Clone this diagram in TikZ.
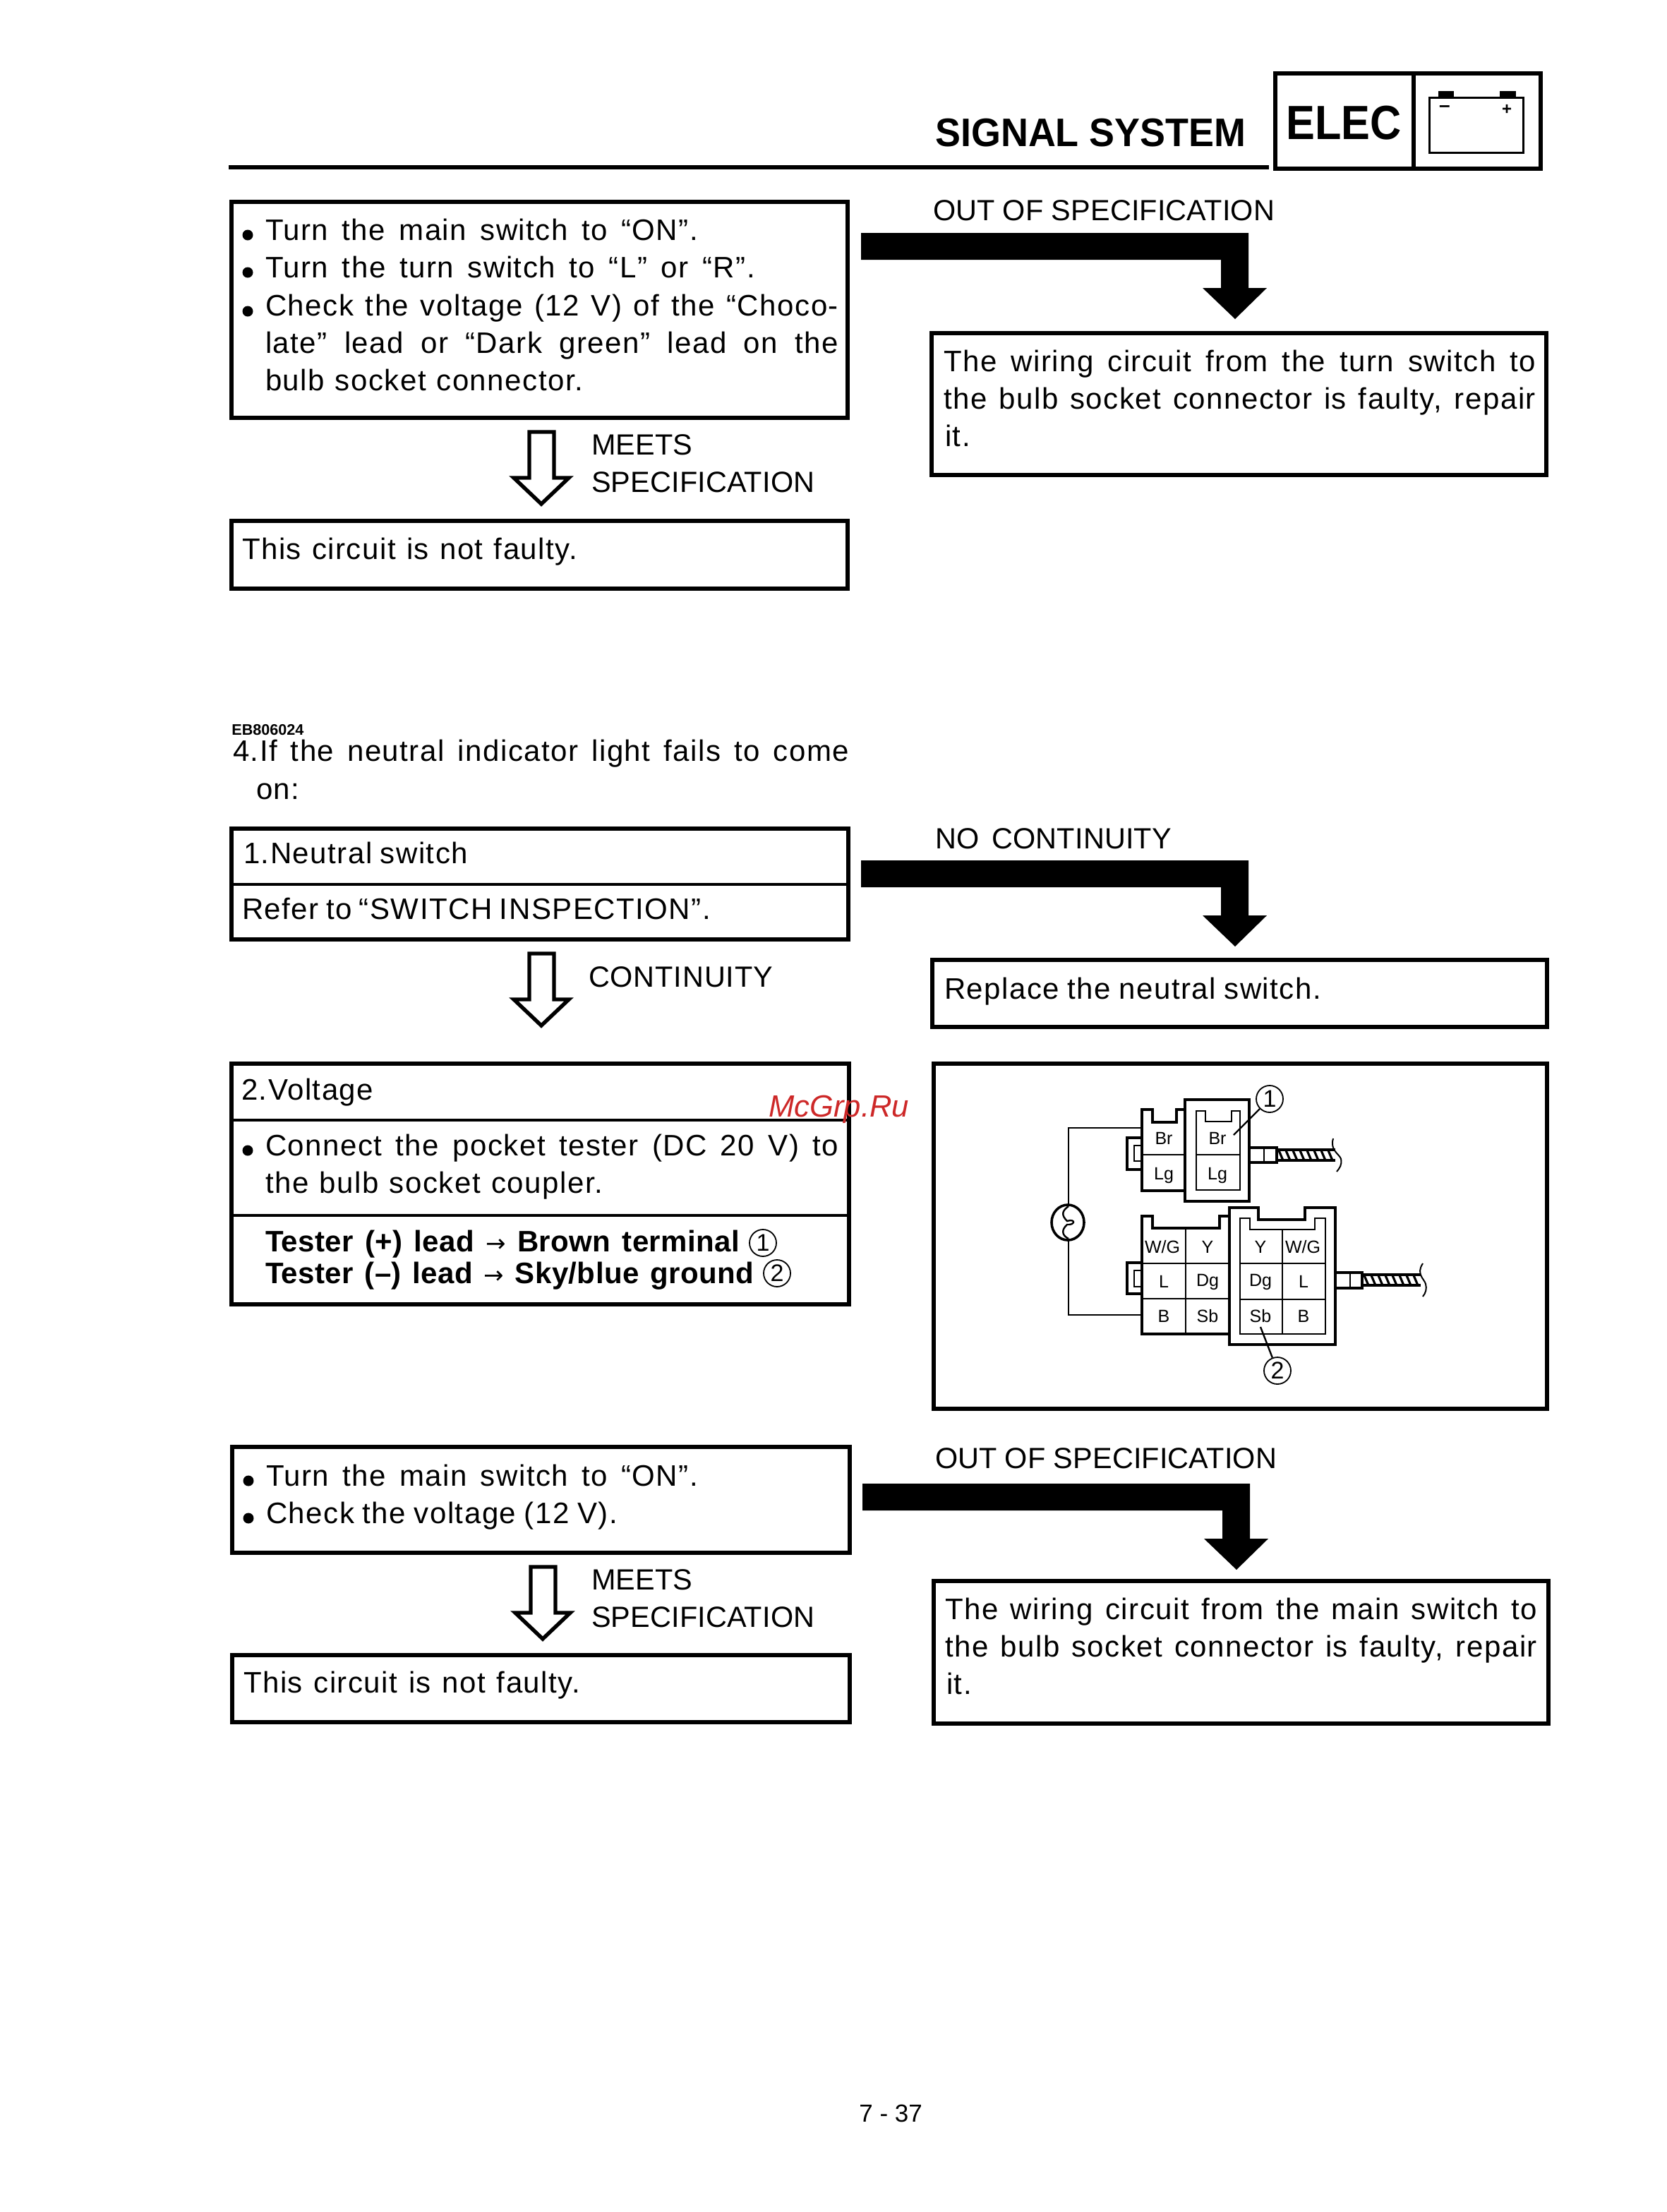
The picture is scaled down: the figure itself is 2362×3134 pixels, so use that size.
\documentclass[tikz,border=0pt]{standalone}
\usetikzlibrary{shapes.geometric}
\usepackage{graphicx}
\usepackage{fontspec}
\setmainfont[LetterSpace=3.6]{Liberation Sans}
\newfontfamily\symfont{DejaVu Sans}
\newfontfamily\plainf[LetterSpace=0.4]{Liberation Sans}
\newfontfamily\contf[LetterSpace=2.2]{Liberation Sans}
\newfontfamily\boldf[LetterSpace=1]{Liberation Sans}
\newfontfamily\headf{Liberation Sans}
\newdimen\pxu \pxu=0.5pt
\newcommand{\bodyfont}{\fontsize{21}{26}\selectfont}
\tikzset{
  x=0.5pt,y=-0.5pt,
  txt/.style={anchor=base west,inner sep=0pt,outer sep=0pt,font=\bodyfont},
  boldtxt/.style={txt,font=\boldf\bodyfont\bfseries},
  labeltxt/.style={txt,font=\plainf\fontsize{20.7}{26}\selectfont},
  conttxt/.style={txt,font=\contf\fontsize{20.7}{26}\selectfont},
  boxn/.style={draw,line width=3pt,fill=white,inner sep=0pt,outer sep=0pt,rectangle},
  cell/.style={inner sep=0pt,font=\headf\fontsize{12.5}{14}\selectfont,anchor=center},
  num/.style={draw,circle,line width=0.9pt,minimum size=19pt,inner sep=0pt,font=\headf\fontsize{17}{18}\selectfont},
  wire/.style={line width=1.2pt},
  cbody/.style={line width=2.3pt,fill=white,line join=miter},
  cinner/.style={line width=1.3pt},
  divl/.style={line width=1.3pt},
  boxdiv/.style={line width=1.9pt},
}
% name, x1,y1,x2,y2 (outer edges)
\newcommand{\bx}[5]{%
  \pgfmathsetmacro{\bw}{(#4-#2)*0.5-3}\pgfmathsetmacro{\bh}{(#5-#3)*0.5-3}%
  \pgfmathsetmacro{\bcx}{(#2+#4)/2}\pgfmathsetmacro{\bcy}{(#3+#5)/2}%
  \node[boxn,minimum width=\bw pt,minimum height=\bh pt] (#1) at (\bcx,\bcy) {};}
% name, x, baseline, width, text (stretched to width)
\newcommand{\tl}[5]{\node[txt] (#1) at (#2,#3) {\makebox[#4\pxu][s]{#5}};}
\newcommand{\tb}[5]{\node[boldtxt] (#1) at (#2,#3) {\makebox[#4\pxu][s]{#5}};}
\newcommand{\tp}[5]{\node[labeltxt] (#1) at (#2,#3) {\makebox[#4\pxu][s]{#5}};}
\newcommand{\bul}[3]{\node[circle,fill,inner sep=0pt,minimum size=7.5pt] (#1) at (#2,#3) {};}
% big elbow arrow: prefix, dx, dy
\newcommand{\bigarrow}[3]{%
  \begin{scope}[shift={(#2,#3)}]
  \coordinate (#1s) at (1220,349);
  \coordinate (#1t) at (1750,452);
  \fill (#1s) ++(0,-19) -- (1769,330) -- (1769,408) -- (1795,408) -- (#1t) -- (1704,408) -- (1730,408) -- (1730,368) -- (1220,368) -- cycle;
  \end{scope}}
% hollow arrow
\newcommand{\holarrow}[3]{%
  \begin{scope}[shift={(#2,#3)}]
  \coordinate (#1t) at (767,714);
  \draw[line width=2.7pt,line join=miter] (750,612) -- (785,612) -- (785,677) -- (806,677) -- (#1t) -- (728,677) -- (750,677) -- cycle;
  \end{scope}}
\begin{document}
\begin{tikzpicture}
\useasboundingbox (0,0) rectangle (2362,3134);
\fill[white] (0,0) rectangle (2362,3134);
% header
\node[anchor=base west,inner sep=0pt,font=\headf\fontsize{28.2}{30}\selectfont\bfseries] (title) at (1325,207) {\scalebox{.955}[1]{SIGNAL SYSTEM}};
\draw[line width=3pt] (324,237) coordinate (rl) -- (1798,237) coordinate (rr);
\bx{elecbox}{1804}{101}{2006}{242}
\bx{batbox}{2000}{101}{2186}{242}
\node[anchor=base west,inner sep=0pt,font=\headf\fontsize{34}{36}\selectfont\bfseries] (elec) at (1822,197) {\scalebox{.9}[1]{ELEC}};
\draw[line width=1.5pt] (2025,138) rectangle (2158,216);
\fill (2038,129) rectangle (2060,138);
\fill (2125,129) rectangle (2148,138);
\node[inner sep=0pt,font=\headf\fontsize{14}{14}\selectfont\bfseries] (batm) at (2047,154) {–};
\node[inner sep=0pt,font=\headf\fontsize{12}{12}\selectfont\bfseries] (batp) at (2135,155) {+};
% block 1
\bx{a1}{325}{283}{1204}{595}
\bul{b1}{351}{333}\tl{t1}{376}{340}{613}{Turn the main switch to “ON”.}
\bul{b2}{351}{386}\tl{t2}{376}{393}{694}{Turn the turn switch to “L” or “R”.}
\bul{b3}{351}{441}\tl{t3}{376}{447}{812}{Check the voltage (12 V) of the “Choco-}
\tl{t4}{376}{500}{812}{late” lead or “Dark green” lead on the}
\tl{t5}{376}{553}{450}{bulb socket connector.}
\holarrow{h1}{0}{0}
\tp{m1}{838}{644}{142}{MEETS}
\tp{m2}{838}{697}{310}{SPECIFICATION}
\bx{a2}{325}{735}{1204}{837}
\tl{t6}{343}{792}{475}{This circuit is not faulty.}
\tp{o1}{1322}{312}{484}{OUT OF SPECIFICATION}
\bigarrow{g1}{0}{0}
\bx{c1}{1317}{469}{2194}{676}
\tl{t7}{1337}{526}{839}{The wiring circuit from the turn switch to}
\tl{t8}{1337}{579}{839}{the bulb socket connector is faulty, repair}
\tl{t9}{1339}{632}{38}{it.}
% section 4
\node[anchor=base west,inner sep=0pt,font=\headf\fontsize{10.8}{12}\selectfont\bfseries] (code) at (328,1041) {EB806024};
\tl{h4a}{330}{1078}{873}{4.If the neutral indicator light fails to come}
\tl{h4b}{363}{1132}{62}{on:}
\bx{n1}{325}{1171}{1205}{1334}
\draw[boxdiv] (n1.west |- 0,1253) coordinate (nd1) -- (n1.east |- 0,1253) coordinate (nd2);
\tl{t10}{345}{1223}{318}{1.Neutral switch}
\tl{t11}{343}{1302}{664}{Refer to “SWITCH INSPECTION”.}
\holarrow{h2}{0}{739}
\node[conttxt] (m3) at (834,1398) {CONTINUITY};
\tp{o2}{1325}{1202}{335}{NO CONTINUITY}
\bigarrow{g2}{0}{889}
\bx{c2}{1318}{1357}{2195}{1458}
\tl{t12}{1338}{1415}{534}{Replace the neutral switch.}
% voltage
\bx{v1}{325}{1504}{1206}{1851}
\draw[boxdiv] (v1.west |- 0,1587) coordinate (vd1) -- (v1.east |- 0,1587) coordinate (vd2);
\draw[boxdiv] (v1.west |- 0,1722) coordinate (vd3) -- (v1.east |- 0,1722) coordinate (vd4);
\tl{t13}{342}{1558}{188}{2.Voltage}
\bul{b4}{351}{1630}\tl{t14}{376}{1637}{812}{Connect the pocket tester (DC 20 V) to}
\tl{t15}{376}{1690}{478}{the bulb socket coupler.}
\tb{t16}{376}{1773}{672}{Tester (+) lead {\symfont\mdseries\fontsize{17}{17}\selectfont→} Brown terminal}
\node[num] (c1n) at (1081,1761) {1};
\tb{t17}{376}{1818}{692}{Tester (–) lead {\symfont\mdseries\fontsize{17}{17}\selectfont→} Sky/blue ground}
\node[num] (c2n) at (1101,1804) {2};
% diagram box
\bx{p1}{1320}{1504}{2195}{1999}
\begin{scope}[shift={(-2,0)}]
% upper connector
\draw[wire] (1516,1707) coordinate (w1) -- (1516,1598) -- (1620,1598) coordinate (w2);
\draw[wire] (1516,1757) coordinate (w3) -- (1516,1863) -- (1620,1863) coordinate (w4);
\node[draw,ellipse,line width=1.8pt,minimum width=23pt,minimum height=25pt,inner sep=0pt] (meter) at (1515,1732) {};
\draw[line width=1.2pt] (1516,1709) .. controls (1506,1716) and (1506,1722) .. (1514,1730) .. controls (1526,1726) and (1526,1736) .. (1514,1735) .. controls (1506,1742) and (1506,1750) .. (1516,1755);
\draw[cbody] (1620,1612) -- (1599,1612) -- (1599,1657) -- (1620,1657);
\draw[cinner] (1620,1623) -- (1609,1623) -- (1609,1645) -- (1620,1645);
\draw[cbody] (1620,1687) -- (1620,1572) -- (1635,1572) -- (1635,1590) -- (1669,1590) -- (1669,1572) -- (1681,1572) -- (1681,1687) -- cycle;
\draw[divl] (1620,1636) -- (1681,1636);
\draw[cbody] (1681,1558) rectangle (1772,1702);
\draw[cinner] (1697,1686) -- (1697,1574) -- (1710,1574) -- (1710,1589) -- (1747,1589) -- (1747,1574) -- (1759,1574) -- (1759,1686) -- cycle;
\draw[divl] (1697,1636) -- (1759,1636);
\node[cell] (u1) at (1651,1613) {Br};
\node[cell] (u2) at (1651,1665) {Lg};
\node[cell] (u3) at (1727,1613) {Br};
\node[cell] (u4) at (1727,1665) {Lg};
\draw[line width=1.8pt] (1772,1626) rectangle (1811,1647);
\draw[line width=1.3pt] (1793,1626) -- (1793,1647);
\fill[black] (1811,1627) rectangle (1894,1631);
\fill[black] (1811,1642) rectangle (1894,1646);
\foreach \i in {0,...,7} {\draw[line width=1.6pt] ({1814+\i*10},1630) -- ({1820+\i*10},1644);}
\draw[line width=1pt] (1891,1613) .. controls (1886,1630) and (1900,1635) .. (1902,1642) .. controls (1904,1650) and (1900,1655) .. (1896,1660);
% lower connector
\draw[cbody] (1620,1789) -- (1599,1789) -- (1599,1833) -- (1620,1833);
\draw[cinner] (1620,1800) -- (1609,1800) -- (1609,1823) -- (1620,1823);
\draw[cbody] (1620,1890) -- (1620,1723) -- (1635,1723) -- (1635,1740) -- (1730,1740) -- (1730,1723) -- (1744,1723) -- (1744,1890) -- cycle;
\draw[divl] (1620,1790) -- (1744,1790);
\draw[divl] (1620,1840) -- (1744,1840);
\draw[divl] (1682,1741) -- (1682,1890);
\draw[cbody] (1744,1905) -- (1744,1711) -- (1785,1711) -- (1785,1728) -- (1851,1728) -- (1851,1711) -- (1894,1711) -- (1894,1905) -- cycle;
\draw[cinner] (1759,1890) -- (1759,1726) -- (1773,1726) -- (1773,1742) -- (1865,1742) -- (1865,1726) -- (1880,1726) -- (1880,1890) -- cycle;
\draw[divl] (1759,1790) -- (1880,1790);
\draw[divl] (1759,1841) -- (1880,1841);
\draw[divl] (1819,1743) -- (1819,1890);
\node[cell] (l1) at (1649,1767) {W/G};
\node[cell] (l2) at (1713,1767) {Y};
\node[cell] (l3) at (1651,1816) {L};
\node[cell] (l4) at (1713,1816) {Dg};
\node[cell] (l5) at (1651,1865) {B};
\node[cell] (l6) at (1713,1865) {Sb};
\node[cell] (r1) at (1788,1767) {Y};
\node[cell] (r2) at (1848,1767) {W/G};
\node[cell] (r3) at (1788,1816) {Dg};
\node[cell] (r4) at (1849,1816) {L};
\node[cell] (r5) at (1788,1865) {Sb};
\node[cell] (r6) at (1849,1865) {B};
\draw[line width=1.8pt] (1894,1803) rectangle (1932,1825);
\draw[line width=1.3pt] (1915,1803) -- (1915,1825);
\fill[black] (1932,1804) rectangle (2015,1808);
\fill[black] (1932,1819) rectangle (2015,1823);
\foreach \i in {0,...,7} {\draw[line width=1.6pt] ({1935+\i*10},1807) -- ({1941+\i*10},1821);}
\draw[line width=1pt] (2018,1790) .. controls (2008,1805) and (2020,1812) .. (2022,1819) .. controls (2024,1826) and (2022,1832) .. (2018,1837);
% callouts
\node[num] (k1) at (1801,1557) {1};
\node[num] (k2) at (1812,1942) {2};
\coordinate (k1t) at (1750,1608);
\coordinate (k2t) at (1788,1880);
\draw[wire] (k1) -- (k1t);
\draw[wire] (k2) -- (k2t);
\end{scope}
% lower block
\tp{o3}{1325}{2080}{484}{OUT OF SPECIFICATION}
\bigarrow{g3}{2}{1772}
\bx{a3}{326}{2047}{1207}{2203}
\bul{b5}{352}{2098}\tl{t18}{377}{2105}{612}{Turn the main switch to “ON”.}
\bul{b6}{352}{2151}\tl{t19}{377}{2158}{498}{Check the voltage (12 V).}
\holarrow{h3}{2}{1608}
\tp{m4}{838}{2252}{142}{MEETS}
\tp{m5}{838}{2305}{310}{SPECIFICATION}
\bx{a4}{326}{2342}{1207}{2443}
\tl{t20}{345}{2398}{477}{This circuit is not faulty.}
\bx{c3}{1320}{2237}{2197}{2445}
\tl{t21}{1339}{2294}{839}{The wiring circuit from the main switch to}
\tl{t22}{1339}{2347}{839}{the bulb socket connector is faulty, repair}
\tl{t23}{1341}{2400}{38}{it.}
% footer and watermark
\node[anchor=base west,inner sep=0pt,font=\headf\fontsize{17.5}{20}\selectfont] (pg) at (1217,3006) {7 - 37};
\node[anchor=base west,inner sep=0pt,font=\headf\fontsize{21.8}{24}\selectfont\itshape,text={rgb,255:red,205;green,40;blue,40}] (wm) at (1089,1582) {McGrp.Ru};
\end{tikzpicture}
\end{document}
